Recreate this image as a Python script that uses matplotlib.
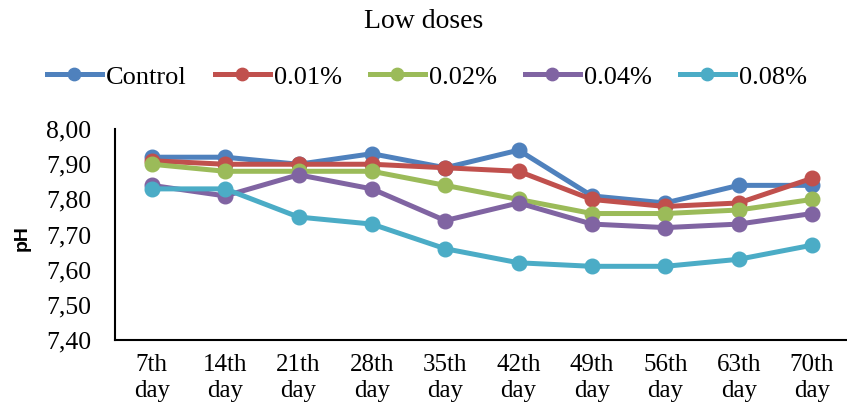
import matplotlib
matplotlib.use('Agg')
import matplotlib.pyplot as plt
from matplotlib.ticker import FuncFormatter

days = ['7th\nday', '14th\nday', '21th\nday', '28th\nday', '35th\nday',
        '42th\nday', '49th\nday', '56th\nday', '63th\nday', '70th\nday']
control = [7.92, 7.92, 7.90, 7.93, 7.89, 7.94, 7.81, 7.79, 7.84, 7.84]
dose_001 = [7.91, 7.90, 7.90, 7.90, 7.89, 7.88, 7.80, 7.78, 7.79, 7.86]
dose_002 = [7.90, 7.88, 7.88, 7.88, 7.84, 7.80, 7.76, 7.76, 7.77, 7.80]
dose_004 = [7.84, 7.81, 7.87, 7.83, 7.74, 7.79, 7.73, 7.72, 7.73, 7.76]
dose_008 = [7.83, 7.83, 7.75, 7.73, 7.66, 7.62, 7.61, 7.61, 7.63, 7.67]
yticks = [7.40, 7.50, 7.60, 7.70, 7.80, 7.90, 8.00]

series = [('Control', control, '#4F81BD'),
          ('0.01%', dose_001, '#C0504D'),
          ('0.02%', dose_002, '#9BBB59'),
          ('0.04%', dose_004, '#8064A2'),
          ('0.08%', dose_008, '#4BACC6')]

plt.rcParams['font.family'] = ['Liberation Serif', 'DejaVu Serif']

fig = plt.figure(figsize=(8.47, 4.19), dpi=100)
ax = fig.add_axes([0.136, 0.188, 0.866, 0.504])

x = list(range(len(days)))
for name, vals, col in series:
    ax.plot(x, vals, '-o', color=col, lw=3.6, markersize=10.5, label=name)

ax.set_xlim(-0.5, len(days) - 0.5)
ax.set_ylim(7.40, 8.00)
ax.set_yticks(yticks)
ax.yaxis.set_major_formatter(FuncFormatter(lambda v, p: ('%.2f' % v).replace('.', ',')))
ax.set_xticks(x)
ax.set_xticklabels(days)
ax.tick_params(axis='y', length=0, labelsize=18.5, pad=17)
ax.tick_params(axis='x', length=0, labelsize=18, pad=10)
ax.spines['top'].set_visible(False)
ax.spines['right'].set_visible(False)
ax.spines['left'].set_linewidth(1.5)
ax.spines['bottom'].set_linewidth(1.5)

# pH label
fig.text(22 / 847, 1 - 238 / 419, 'pH', rotation=90, fontsize=14, fontweight='bold',
         family='Liberation Sans', ha='center', va='center')

fig.text(0.5, 1 - 22 / 419, 'Low doses', fontsize=20, ha='center', va='center')
fig.legend(loc='center', bbox_to_anchor=(0.504, 1 - 77 / 419), ncol=5, frameon=False,
           fontsize=19, handlelength=2.1, handletextpad=0.15, columnspacing=1.05,
           markerscale=0.85)

plt.savefig('out.png', dpi=100)
